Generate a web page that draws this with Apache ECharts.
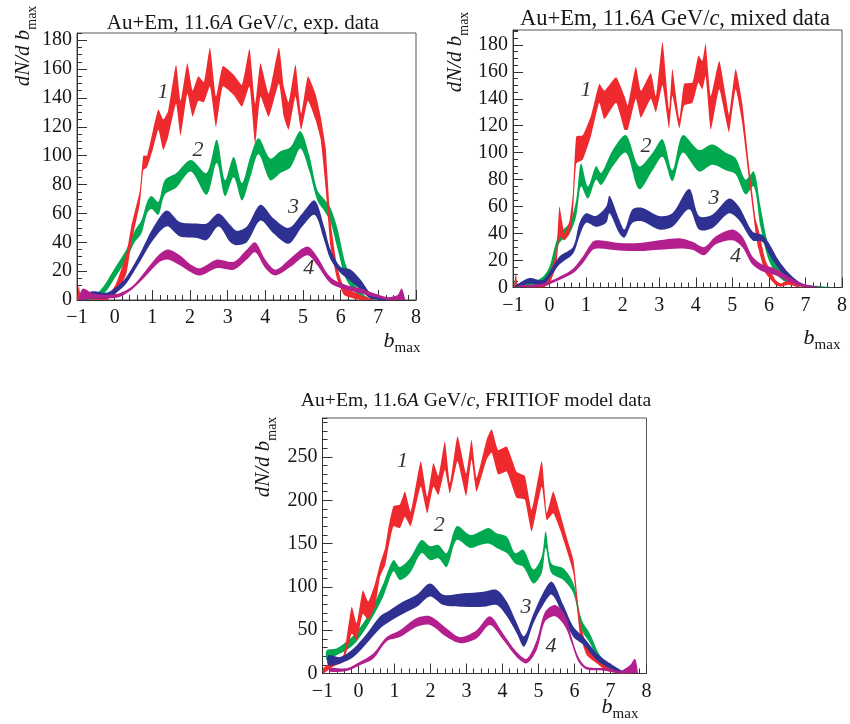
<!DOCTYPE html>
<html><head><meta charset="utf-8">
<script src="https://cdn.jsdelivr.net/npm/echarts@6/dist/echarts.min.js"></script>
<style>html,body{margin:0;padding:0;background:#fff}#c{width:850px;height:724px}</style>
</head><body><div id="c"></div>
<script>
// ---------- DATA ----------
// Panel 1: exp. data
const e1_x  = [-1.0,-0.95,-0.9,-0.8,-0.22,0.04,0.31,0.44,0.67,0.76,0.86,1.02,1.16,1.29,1.42,1.63,1.75,1.93,2.07,2.22,2.37,2.53,2.69,2.87,3.16,3.38,3.58,3.73,3.87,4.09,4.36,4.49,4.62,4.8,4.95,5.13,5.33,5.47,5.6,5.64,5.73,5.91,6.09,6.53,6.89];
const e1_hi = [0,10,2,0,2,11.5,32,51,76,100,100,118,132,125,131,163,138,164,145,155,151,175,141,162,156,149,174,136,164,143,175,148,137,163,129,155,143,127,106,90,55,23,9,3.5,0];
const e1_lo = [0,0,0,0,0,4.6,18,39,67,90,92,105,118,104,113,136,114,143,127,138,137,148,120,148,142,134,148,108,141,127,150,127,118,141,118,138,125,111,78,65,37,14,3.5,0,0];
const e2_x  = [-0.95,-0.6,-0.31,0,0.31,0.53,0.71,0.86,0.98,1.16,1.33,1.64,2.02,2.44,2.71,2.93,3.16,3.38,3.6,3.82,4.13,4.4,4.67,4.93,5.16,5.38,5.56,5.73,5.91,6.13,6.36,6.62,6.89];
const e2_hi = [0,2,9,22,35,48,55,68,72,68,83,88,97,88,111,83,99,81,99,112,98,103,106,117,101,76,70,64,50,25,11.5,3.5,0];
const e2_lo = [0,0,3.5,15,28,40,46,60,63,59,73,78,89,73,95,72,85,69,85,101,83,88,92,105,90,69,62,54,36,15,6,0,0];
const e3_x  = [-0.9,-0.58,-0.22,0.04,0.31,0.67,1.02,1.38,1.73,2.18,2.44,2.76,3.07,3.24,3.51,3.87,4.22,4.62,4.98,5.31,5.56,5.73,6.0,6.27,6.53,6.8,7.07,7.33];
const e3_hi = [2,6,5,9,16,32,50,62,54,53,53,60,52,48,51,66,56.5,50,60,69,51,35,23,21,14,4.6,2,0];
const e3_lo = [0,1,1,5,11.5,26.5,41.5,51,44,43,41.5,51,40,38,40,55,46,39,51,59,41.5,28,18.5,13,7,1,0,0];
const e4_x  = [-0.95,-0.84,-0.58,-0.22,0.13,0.49,0.84,1.2,1.42,1.73,2.0,2.27,2.71,3.16,3.51,3.73,4.0,4.27,4.67,5.11,5.38,5.64,5.82,6.18,6.53,6.89,7.24,7.51,7.62,7.72];
const e4_hi = [2,8,4.6,3.5,4.6,10,21,32,35,31,25,22,28,26.5,35,40,28,21,29,37,30,18.5,14,10,8,4.6,2,3.5,8,0];
const e4_lo = [0,0,1,1,2,8,17,26.5,28,24,19.6,17,22,21,28,33,22,17,23,31,24,14,10,7,4.6,2,0,0,0,0];
const e_labelX = [1.28,2.21,4.75,5.15];
const e_labelY = [144,104,64,22];

// Panel 2: mixed data
const m1_x  = [-0.97,-0.92,-0.87,-0.73,-0.18,0,0.18,0.27,0.41,0.55,0.64,0.73,0.91,1.14,1.36,1.5,1.82,2.05,2.14,2.36,2.5,2.77,2.91,3.09,3.27,3.36,3.55,3.68,3.91,4.07,4.18,4.27,4.41,4.64,4.82,4.91,5.09,5.27,5.45,5.64,5.7,5.91,6.18,6.32,6.55,6.82,7.18];
const m1_hi = [0,10.5,0,0,3,10.5,25,60,40,50,70,112,113,128,151,146,156,142,135,164,146,159,142,182,132,162,125,151,152,172,168,181,142,168,142,128,162,137,92,50,45,20,5.6,3,5.6,1,0];
const m1_lo = [0,0,0,0,0,3,15.5,38,35,40,55,92,95,113,137,125,137,117,117,140,126,140,130,150,118,142,118,135,137,152,147,157,117,147,125,115,147,122,82,40,30,10.5,2,0.6,2,0,0];
const m2_x  = [-0.97,-0.93,-0.88,-0.73,-0.45,-0.18,0,0.14,0.27,0.55,0.73,0.86,1.05,1.27,1.41,1.73,2.09,2.45,2.82,3.09,3.36,3.64,4.09,4.45,4.82,5.09,5.36,5.59,5.77,6.0,6.27,6.55,7.0,7.5,7.85];
const m2_hi = [0,9,3,3,4.3,8,15.5,30,40,48,65,92,75,90,85,102,113,90,100,110,87,113,102,106,100,96,80,86,60,30,15.5,7,2,0.8,0];
const m2_lo = [0,0,0,0.6,2,3,8,20,33,40,53,75,66,80,76,90,100,73,87,97,79,100,86,91,87,84,69,75,45,20,8,3,0.6,0,0];
const m3_x  = [-0.95,-0.55,-0.18,0.09,0.27,0.64,0.82,1.0,1.27,1.55,1.64,1.91,2.05,2.27,2.55,3.0,3.36,3.82,4.09,4.45,4.91,5.18,5.55,5.82,6.0,6.27,6.55,6.82,7.09,7.36];
const m3_hi = [1,7,5.6,15.5,23,30,48,55,53,60,68,50,43,58,59,53,55,73,53,54,66,60,41.5,39,33,20,10.5,4.3,1.4,0];
const m3_lo = [0,3,2,10.5,17,25,38,48,45,48,55,40,37,48,49,43,45,58,43,44,55,50,35,34,25,14,5.6,2,0,0];
const m4_x  = [-0.85,-0.18,0.27,0.64,0.91,1.18,1.36,1.91,2.45,3.0,3.55,3.91,4.23,4.55,5.0,5.27,5.55,5.82,6.18,6.55,6.91,7.27,7.55];
const m4_hi = [1.4,3,8,14,23,34,35,33,33,35,36.6,34,30,38,43,38,23,17,14,8,3,1,0];
const m4_lo = [0.3,1,5.6,10.5,18,28,29,27.5,27,28,29,28,24,32,35,30,17,12,9,4.3,0.6,0,0];
const m_labelX = [1.0,2.64,4.5,5.09];
const m_labelY = [146,105,66,23];

// Panel 3: FRITIOF model data
const f1_x  = [-0.98,-0.7,-0.42,-0.19,-0.05,0.12,0.27,0.46,0.6,0.74,0.83,0.97,1.15,1.29,1.45,1.73,1.91,2.08,2.22,2.4,2.54,2.75,2.99,3.14,3.28,3.56,3.7,3.88,4.12,4.39,4.62,4.81,5.09,5.23,5.41,5.6,5.78,5.97,6.15,6.34,6.62,6.9,7.26,7.45];
const f1_hi = [6,15,21,77,58,96,83,104,127,145,168,193,195,210,187,245,204,243,228,268,220,274,231,270,226,270,282,258,262,233,228,189,245,185,210,185,158,131,62,31,19,7.7,2,0];
const f1_lo = [0,8,13.5,46,38.6,69,62,77,112,125,145,170,168,181,170,216,185,216,206,235,208,245,205,247,210,247,255,230,233,203,201,164,216,177,185,166,143,116,46,21,11.6,3,0,0];
const f2_x  = [-0.88,-0.61,-0.33,-0.05,0.32,0.69,0.97,1.15,1.43,1.75,1.99,2.22,2.45,2.73,3.1,3.38,3.61,3.84,4.12,4.35,4.58,4.86,5.09,5.2,5.36,5.69,5.97,6.2,6.43,6.71,7.08,7.36];
const f2_hi = [27,29,37,48,71,104,131,123,133,154,147,148.5,139,170,160,164,168,162,158,139,143,120,135,164,127,121.5,104,62,46,21,6,0];
const f2_lo = [15.4,21,27,37,60,89,118,108,116,139,131,133,123,154,145,148.5,150,145,139,127,123,104,116,145,116,108,92.6,50,35,11.6,2,0];
const f3_x  = [-0.84,-0.51,-0.14,0.23,0.6,0.87,1.24,1.62,1.99,2.36,2.91,3.47,3.84,4.12,4.4,4.6,4.86,5.1,5.37,5.69,5.97,6.25,6.62,6.99,7.36];
const f3_hi = [21,19,29,46,66,73,83,91,104,91,92.6,94.5,96.5,83,58,43,69,91,106,79,54,42,23,11.6,2];
const f3_lo = [9.6,11.6,19,35,52,60,69,77,89,79,77,77,79,66,46,31,58,77,91,66,42,33,15.4,6,0];
const f4_x  = [-0.79,-0.33,0.04,0.41,0.78,1.15,1.62,1.99,2.45,2.82,3.28,3.65,4.02,4.39,4.67,4.95,5.18,5.46,5.74,5.92,6.11,6.34,6.9,7.26,7.54,7.68,7.77];
const f4_hi = [6,6,13.5,23,42,50,64,66,52,42,50,66,46,25,17,38.6,71,79,67.5,42,19,7.7,6,3,9.6,17,0];
const f4_lo = [2,3,9.6,17,37,42,54,56,42,35,40.5,56,38.6,19,11.6,27,60,66,54,35,13.5,4.6,3,0,0,0,0];
const f_labelX = [1.22,2.24,4.65,5.35];
const f_labelY = [245,171,77,31];

const curveNames = ['1','2','3','4'];
const xTicks = {min:-1, max:8, step:1};
const titles = ['exp. data','mixed data','FRITIOF model data'];

// ---------- STYLE / LAYOUT ----------
const FONT = '"Liberation Serif","Times New Roman",serif';
const COL = {red:'#ee2a2f', green:'#00a94f', blue:'#2e3192', mag:'#b3208d'};
const INK = '#161616', AX = '#333';

const panels = [
  {grid:{left:77, top:33, width:339, height:267}, ymax:185, ystep:20, yminor:5, tfs:21,
   bands:[[e2_x,e2_lo,e2_hi,COL.green],[e1_x,e1_lo,e1_hi,COL.red],[e3_x,e3_lo,e3_hi,COL.blue],[e4_x,e4_lo,e4_hi,COL.mag]],
   lx:e_labelX, ly:e_labelY, title:{x:243,y:23}, yname:{x:26,y:46}, xname:{x:402,y:343}},
  {grid:{left:513, top:30, width:330, height:257.5}, ymax:191, ystep:20, yminor:5, tfs:22.5,
   bands:[[m2_x,m2_lo,m2_hi,COL.green],[m1_x,m1_lo,m1_hi,COL.red],[m3_x,m3_lo,m3_hi,COL.blue],[m4_x,m4_lo,m4_hi,COL.mag]],
   lx:m_labelX, ly:m_labelY, title:{x:675,y:19}, yname:{x:458,y:52}, xname:{x:822,y:340}},
  {grid:{left:322.5, top:418, width:324, height:255.5}, ymax:295, ystep:50, yminor:10, tfs:19.7,
   bands:[[f2_x,f2_lo,f2_hi,COL.green],[f1_x,f1_lo,f1_hi,COL.red],[f3_x,f3_lo,f3_hi,COL.blue],[f4_x,f4_lo,f4_hi,COL.mag]],
   lx:f_labelX, ly:f_labelY, title:{x:476,y:401}, yname:{x:266,y:457}, xname:{x:620,y:709}}
];

function bandSeries(g, xs, lo, hi, color, smooth) {
  return {
    type:'custom', xAxisIndex:g, yAxisIndex:g, silent:true, clip:true,
    data: xs.map((x,i)=>[x, lo[i], hi[i]]),
    encode:{x:0, y:[1,2]},
    renderItem: function(params, api) {
      if (params.dataIndex !== 0) return null;
      const n = params.dataInsideLength, top = [], bot = [];
      for (let i=0;i<n;i++) {
        const x = api.value(0,i);
        top.push(api.coord([x, api.value(2,i)]));
        bot.push(api.coord([x, api.value(1,i)]));
      }
      return {type:'polygon', shape:{points: top.concat(bot.reverse()), smooth:smooth}, style:{fill:color}};
    }
  };
}

const grid=[], xAxis=[], yAxis=[], series=[], graphic=[];
panels.forEach((p,g)=>{
  grid.push(Object.assign({show:true, borderColor:'#555', borderWidth:1, backgroundColor:'transparent'}, p.grid));
  xAxis.push({gridIndex:g, type:'value', min:xTicks.min, max:xTicks.max, interval:xTicks.step,
    axisLine:{onZero:false, lineStyle:{color:AX, width:1}},
    axisTick:{inside:true, length:10, lineStyle:{color:AX}},
    minorTick:{show:true, splitNumber:5, length:5, lineStyle:{color:AX}},
    splitLine:{show:false},
    axisLabel:{fontFamily:FONT, fontSize:20, color:INK, margin:8,
      formatter:v=> v<0 ? '\u2212'+(-v) : String(v)}});
  yAxis[g] = {gridIndex:g, type:'value', position:'left', min:0, max:p.ymax, interval:p.ystep,
    axisLine:{show:true, onZero:false, lineStyle:{color:AX, width:1}},
    axisTick:{inside:true, length:10, lineStyle:{color:AX}},
    splitLine:{show:false},
    axisLabel:{fontFamily:FONT, fontSize:20, color:INK, margin:5, showMaxLabel:false,
      formatter:v=> (v % p.ystep === 0) ? String(v) : ''}};
  yAxis[g+3] = {gridIndex:g, type:'value', position:'left', min:0, max:p.ymax, interval:p.yminor,
    axisLine:{show:false, onZero:false}, axisLabel:{show:false}, splitLine:{show:false},
    axisTick:{inside:true, length:5, lineStyle:{color:AX}}};
  p.bands.forEach(b=>series.push(bandSeries(g,b[0],b[1],b[2],b[3], b[3]===COL.red ? 0.15 : 0.3)));
  series.push({type:'scatter', xAxisIndex:g, yAxisIndex:g, symbolSize:0, silent:true, z:5,
    data: p.lx.map((x,i)=>({value:[x,p.ly[i]], name:curveNames[i]})),
    label:{show:true, position:'inside', formatter:'{b}', fontFamily:FONT, fontStyle:'italic', fontSize:22, color:'#000'}});
  graphic.push({type:'text', x:p.title.x, y:p.title.y, style:{
    text:'{n|Au+Em, 11.6}{i|A}{n| GeV/}{i|c}{n|, '+titles[g]+'}',
    align:'center', verticalAlign:'middle', fill:INK,
    rich:{n:{fontFamily:FONT, fontSize:p.tfs, fill:INK}, i:{fontFamily:FONT, fontSize:p.tfs, fontStyle:'italic', fill:INK}}}});
  graphic.push({type:'text', x:p.yname.x, y:p.yname.y, rotation:Math.PI/2, style:{
    text:'{i|dN/d b}{s|max}', align:'center', verticalAlign:'middle', fill:INK,
    rich:{i:{fontFamily:FONT, fontSize:21, fontStyle:'italic', lineHeight:26, verticalAlign:'top', fill:INK},
          s:{fontFamily:FONT, fontSize:14, lineHeight:14, verticalAlign:'bottom', fill:INK}}}});
  graphic.push({type:'text', x:p.xname.x, y:p.xname.y, style:{
    text:'{i|b}{s|max}', align:'center', verticalAlign:'middle', fill:INK,
    rich:{i:{fontFamily:FONT, fontSize:22, fontStyle:'italic', lineHeight:26, verticalAlign:'top', fill:INK},
          s:{fontFamily:FONT, fontSize:15, lineHeight:15, verticalAlign:'bottom', fill:INK}}}});
});

const chart = echarts.init(document.getElementById('c'), null, {renderer:'canvas'});
chart.setOption({animation:false, backgroundColor:'#fff', grid, xAxis, yAxis, series, graphic});
</script></body></html>
